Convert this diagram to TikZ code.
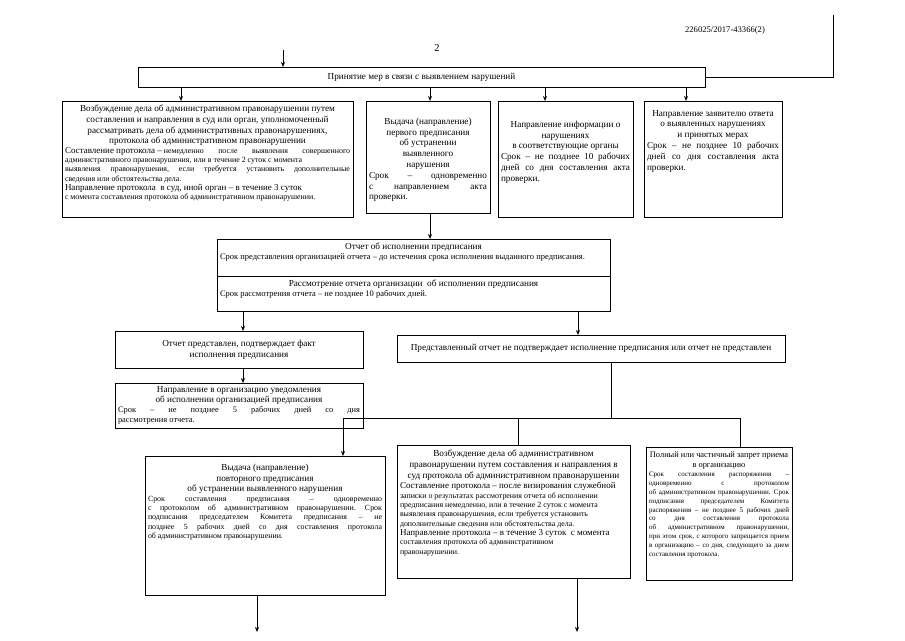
\documentclass[tikz,border=0pt]{standalone}
\usepackage{fontspec}
\setmainfont{Liberation Serif}
\usetikzlibrary{arrows.meta}
\newcommand{\tbox}[3]{\parbox[t][#2][t]{#1}{#3}}
\newcommand{\cbox}[3]{\parbox[t][#2][c]{#1}{#3}}
\newcommand{\ttl}{\fontsize{9.2}{10.8}\selectfont}
\newcommand{\bdy}{\fontsize{7.9}{9.3}\selectfont}
\newcommand{\bdyl}{\fontsize{9}{10}\selectfont}
\newcommand{\sbdy}{\fontsize{7}{8.9}\selectfont}
\begin{document}
\begin{tikzpicture}[x=1pt,y=-1pt,
  box/.style={draw, line width=0.9pt, anchor=north west, inner sep=3pt, outer sep=0pt},
  arr/.style={-{Stealth[length=5pt,width=4pt]}, line width=0.7pt},
  ln/.style={line width=0.7pt}]
\useasboundingbox (0,0) rectangle (905,640);

\node[anchor=center] (hdr) at (725,30) {\fontsize{8.6}{10}\selectfont 226025/2017-43366(2)};
\node[anchor=center] (pg) at (437,48) {\fontsize{10.5}{12}\selectfont 2};

% top box
\node[box] (top) at (138,67) {\cbox{561pt}{14pt}{\centering\ttl Принятие мер в связи с выявлением нарушений\par}};

% row 1
\node[box] (b1) at (62,101) {\tbox{285pt}{110pt}{\vspace*{1pt}\centering\ttl Возбуждение дела об административном правонарушении путем\\ составления и направления в суд или орган, уполномоченный\\ рассматривать дела об административных правонарушениях,\\ протокола об административном правонарушении\par
\raggedright\bdy{\bdyl Составление протокола –} немедленно \hfill после \hfill выявления \hfill совершенного\\ административного правонарушения, или в течение 2 суток с момента\\ выявления \hfill правонарушения, \hfill если \hfill требуется \hfill установить \hfill дополнительные\\ сведения или обстоятельства дела.\\ {\bdyl Направление протокола\ \ в суд, иной орган – в течение 3 суток}\\ с момента составления протокола об административном правонарушении.\par}};

\node[box] (b2) at (366,101) {\tbox{118pt}{106pt}{\vspace*{14pt}\centering\ttl Выдача (направление)\\ первого предписания\\ об устранении\\ выявленного\\ нарушения\par
\raggedright Срок \hfill – \hfill одновременно\\ с \hfill направлением \hfill акта\\ проверки.\par}};

\node[box] (b3) at (498,101) {\tbox{129pt}{110pt}{\vspace*{17pt}\centering\ttl Направление информации о\\ нарушениях\\ в соответствующие органы\par
\raggedright Срок \hfill – \hfill не \hfill позднее \hfill 10 \hfill рабочих\\ дней \hfill со \hfill дня \hfill составления \hfill акта\\ проверки.\par}};

\node[box] (b4) at (644,101) {\tbox{132pt}{110pt}{\vspace*{6pt}\centering\ttl Направление заявителю ответа\\ о выявленных нарушениях\\ и принятых мерах\par
\raggedright Срок \hfill – \hfill не \hfill позднее \hfill 10 \hfill рабочих\\ дней \hfill со \hfill дня \hfill составления \hfill акта\\ проверки.\par}};

% report
\node[box] (rep1) at (217,239) {\tbox{387pt}{31pt}{\vspace*{1pt}\centering\ttl Отчет об исполнении предписания\par
\raggedright\fontsize{8.5}{9.8}\selectfont Срок представления организацией отчета – до истечения срока исполнения выданного предписания.\par}};
\node[box] (rep2) at (217,276) {\tbox{387pt}{29pt}{\vspace*{1pt}\centering\ttl Рассмотрение отчета организации\ \ об исполнении предписания\par
\raggedright\fontsize{8.5}{9.8}\selectfont Срок рассмотрения отчета – не позднее 10 рабочих дней.\par}};

% middle row
\node[box] (okA) at (115,331) {\cbox{242pt}{31pt}{\centering\ttl Отчет представлен, подтверждает факт\\ исполнения предписания\par}};
\node[box] (okB) at (115,383) {\tbox{242pt}{39pt}{\centering\ttl Направление в организацию уведомления\\ об исполнении организацией предписания\par
\raggedright\fontsize{8.4}{10}\selectfont Срок \hfill – \hfill не \hfill позднее \hfill 5 \hfill рабочих \hfill дней \hfill со \hfill дня\\ рассмотрения отчета.\par}};

\node[box] (no) at (397,335) {\cbox{382pt}{21pt}{\centering\ttl Представленный отчет не подтверждает исполнение предписания или отчет не представлен\par}};

% bottom row
\node[box] (bl) at (145,456) {\tbox{234pt}{133pt}{\vspace*{5pt}\centering\ttl Выдача (направление)\\ повторного предписания\\ об устранении выявленного нарушения\par
\raggedright\bdy Срок \hfill составления \hfill предписания \hfill – \hfill одновременно\\ с \hfill протоколом \hfill об \hfill административном \hfill правонарушении. \hfill Срок\\ подписания \hfill председателем \hfill Комитета \hfill предписания \hfill – \hfill не\\ позднее \hfill 5 \hfill рабочих \hfill дней \hfill со \hfill дня \hfill составления \hfill протокола\\ об административном правонарушении.\par}};

\node[box] (bm) at (397,445) {\tbox{227pt}{127pt}{\vspace*{2pt}\centering\ttl Возбуждение дела об административном\\ правонарушении путем составления и направления в\\ суд протокола об административном правонарушении\par
\raggedright{\bdyl Составление протокола – после визирования служебной}\\ \bdy записки о результатах рассмотрения отчета об исполнении\\ предписания немедленно, или в течение 2 суток с момента\\ выявления правонарушения, если требуется установить\\ дополнительные сведения или обстоятельства дела.\\ {\bdyl Направление протокола – в течение 3 суток\ \ с момента}\\ составления протокола об административном\\ правонарушении.\par}};

\node[box] (br) at (646,447) {\tbox{140pt}{127pt}{\vspace*{2pt}\centering\fontsize{8.4}{9.8}\selectfont Полный или частичный запрет приема\\ в организацию\par
\raggedright\sbdy Срок \hfill составления \hfill распоряжения \hfill –\\ одновременно \hfill с \hfill протоколом\\ об \hfill административном \hfill правонарушении. \hfill Срок\\ подписания \hfill председателем \hfill Комитета\\ распоряжения \hfill – \hfill не \hfill позднее \hfill 5 \hfill рабочих \hfill дней\\ со \hfill дня \hfill составления \hfill протокола\\ об \hfill административном \hfill правонарушении,\\ при \hfill этом \hfill срок, \hfill с \hfill которого \hfill запрещается \hfill прием\\ в \hfill организацию \hfill – \hfill со \hfill дня, \hfill следующего \hfill за \hfill днем\\ составления протокола.\par}};

% helper coordinates
\coordinate (in1) at (283,50);
\coordinate (in2) at (833,15);
\coordinate (x1) at (181,0);
\coordinate (x2) at (430,0);
\coordinate (x3) at (545,0);
\coordinate (x4) at (686,0);
\coordinate (xa) at (243,0);
\coordinate (xn) at (578,0);
\coordinate (jn) at (611,418);
\coordinate (jl) at (343,418);
\coordinate (jm) at (518,418);
\coordinate (jr) at (740,418);
\coordinate (o1) at (257,632);
\coordinate (o2) at (577,632);

% connectors
\draw[arr] (in1) -- (in1 |- top.north);
\draw[ln] (in2) |- (top.east);
\draw[arr] (top.south -| x1) -- (b1.north -| x1);
\draw[arr] (top.south -| x2) -- (b2.north -| x2);
\draw[arr] (top.south -| x3) -- (b3.north -| x3);
\draw[arr] (top.south -| x4) -- (b4.north -| x4);
\draw[arr] (b2.south -| x2) -- (rep1.north -| x2);
\draw[arr] (rep2.south -| xa) -- (okA.north -| xa);
\draw[arr] (rep2.south -| xn) -- (no.north -| xn);
\draw[arr] (okA.south -| xa) -- (okB.north -| xa);
\draw[ln] (no.south -| jn) -- (jn);
\draw[ln] (jl) -- (jr);
\draw[arr] (jl) -- (jl |- bl.north);
\draw[ln] (jm) -- (jm |- bm.north);
\draw[ln] (jr) -- (jr |- br.north);
\draw[arr] (bl.south -| o1) -- (o1);
\draw[arr] (bm.south -| o2) -- (o2);
\end{tikzpicture}
\end{document}
